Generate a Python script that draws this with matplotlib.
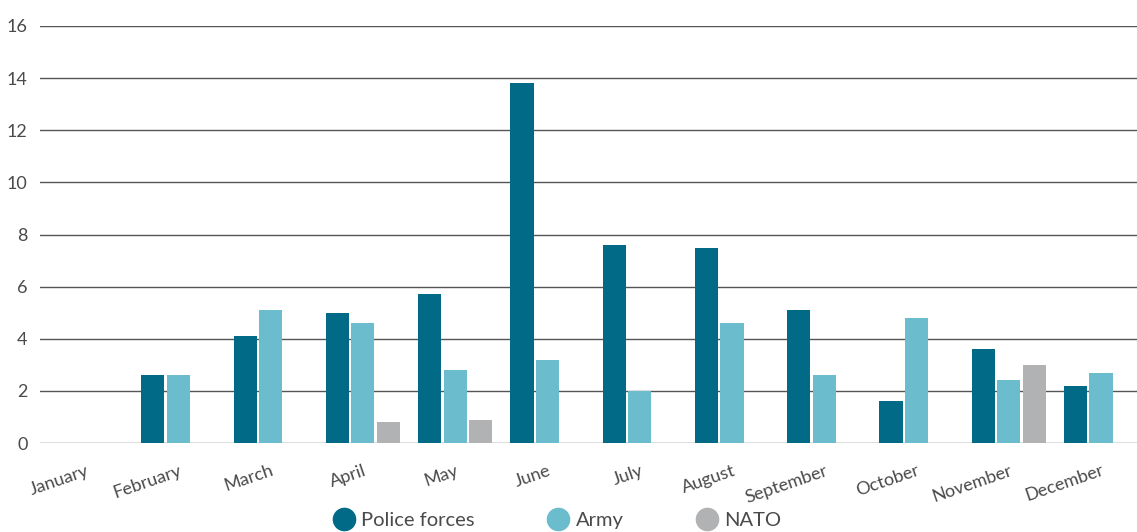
import matplotlib
matplotlib.use("Agg")
import matplotlib.pyplot as plt
from matplotlib.lines import Line2D
import numpy as np

plt.rcParams['font.family'] = ['Lato', 'DejaVu Sans']

months = ["January", "February", "March", "April", "May", "June", "July",
          "August", "September", "October", "November", "December"]
police = [0, 2.6, 4.1, 5.0, 5.7, 13.8, 7.6, 7.5, 5.1, 1.6, 3.6, 2.2]
army = [0, 2.6, 5.1, 4.6, 2.8, 3.2, 2.0, 4.6, 2.6, 4.8, 2.4, 2.7]
nato = [0, 0, 0, 0.8, 0.9, 0, 0, 0, 0, 0, 3.0, 0]
series_names = ["Police forces", "Army", "NATO"]
yticks = [0, 2, 4, 6, 8, 10, 12, 14, 16]

colors = ["#006A87", "#6BBCCD", "#B1B2B4"]
text_color = "#4a4a4a"

W, H = 1137, 532
fig = plt.figure(figsize=(W / 100, H / 100), dpi=100)
ax = fig.add_axes([40 / W, 1 - 443 / H, 1 - 40 / W, (443 - 26) / H])

x = np.arange(len(months))
off = 0.276
bw = 0.25
for i, (vals, c) in enumerate(zip([police, army, nato], colors)):
    ax.bar(x + (i - 1) * off, vals, width=bw, color=c, zorder=3)

ax.set_ylim(0, 16)
ax.set_xlim(-0.5, 11.39)
ax.set_yticks(yticks)
ax.yaxis.grid(True, color="#555555", linewidth=1.0, zorder=0)
ax.set_axisbelow(True)
for s in ax.spines.values():
    s.set_visible(False)
ax.tick_params(axis='both', length=0, labelsize=13, labelcolor=text_color)
ax.tick_params(axis='y', pad=9)
ax.set_xticks(x)
ax.set_xticklabels(months, rotation=19, ha='right', rotation_mode='anchor')
ax.tick_params(axis='x', pad=14)

handles = [Line2D([0], [0], marker='o', linestyle='none', markersize=16,
                  markerfacecolor=c, markeredgecolor=c) for c in colors]
fig.legend(handles, series_names, loc='center', bbox_to_anchor=(0.49, 1 - 520 / H),
           ncol=3, frameon=False, fontsize=14.5, labelcolor=text_color,
           handlelength=1.1, handletextpad=0.3, columnspacing=3.6)

fig.savefig("out.png", dpi=100)
